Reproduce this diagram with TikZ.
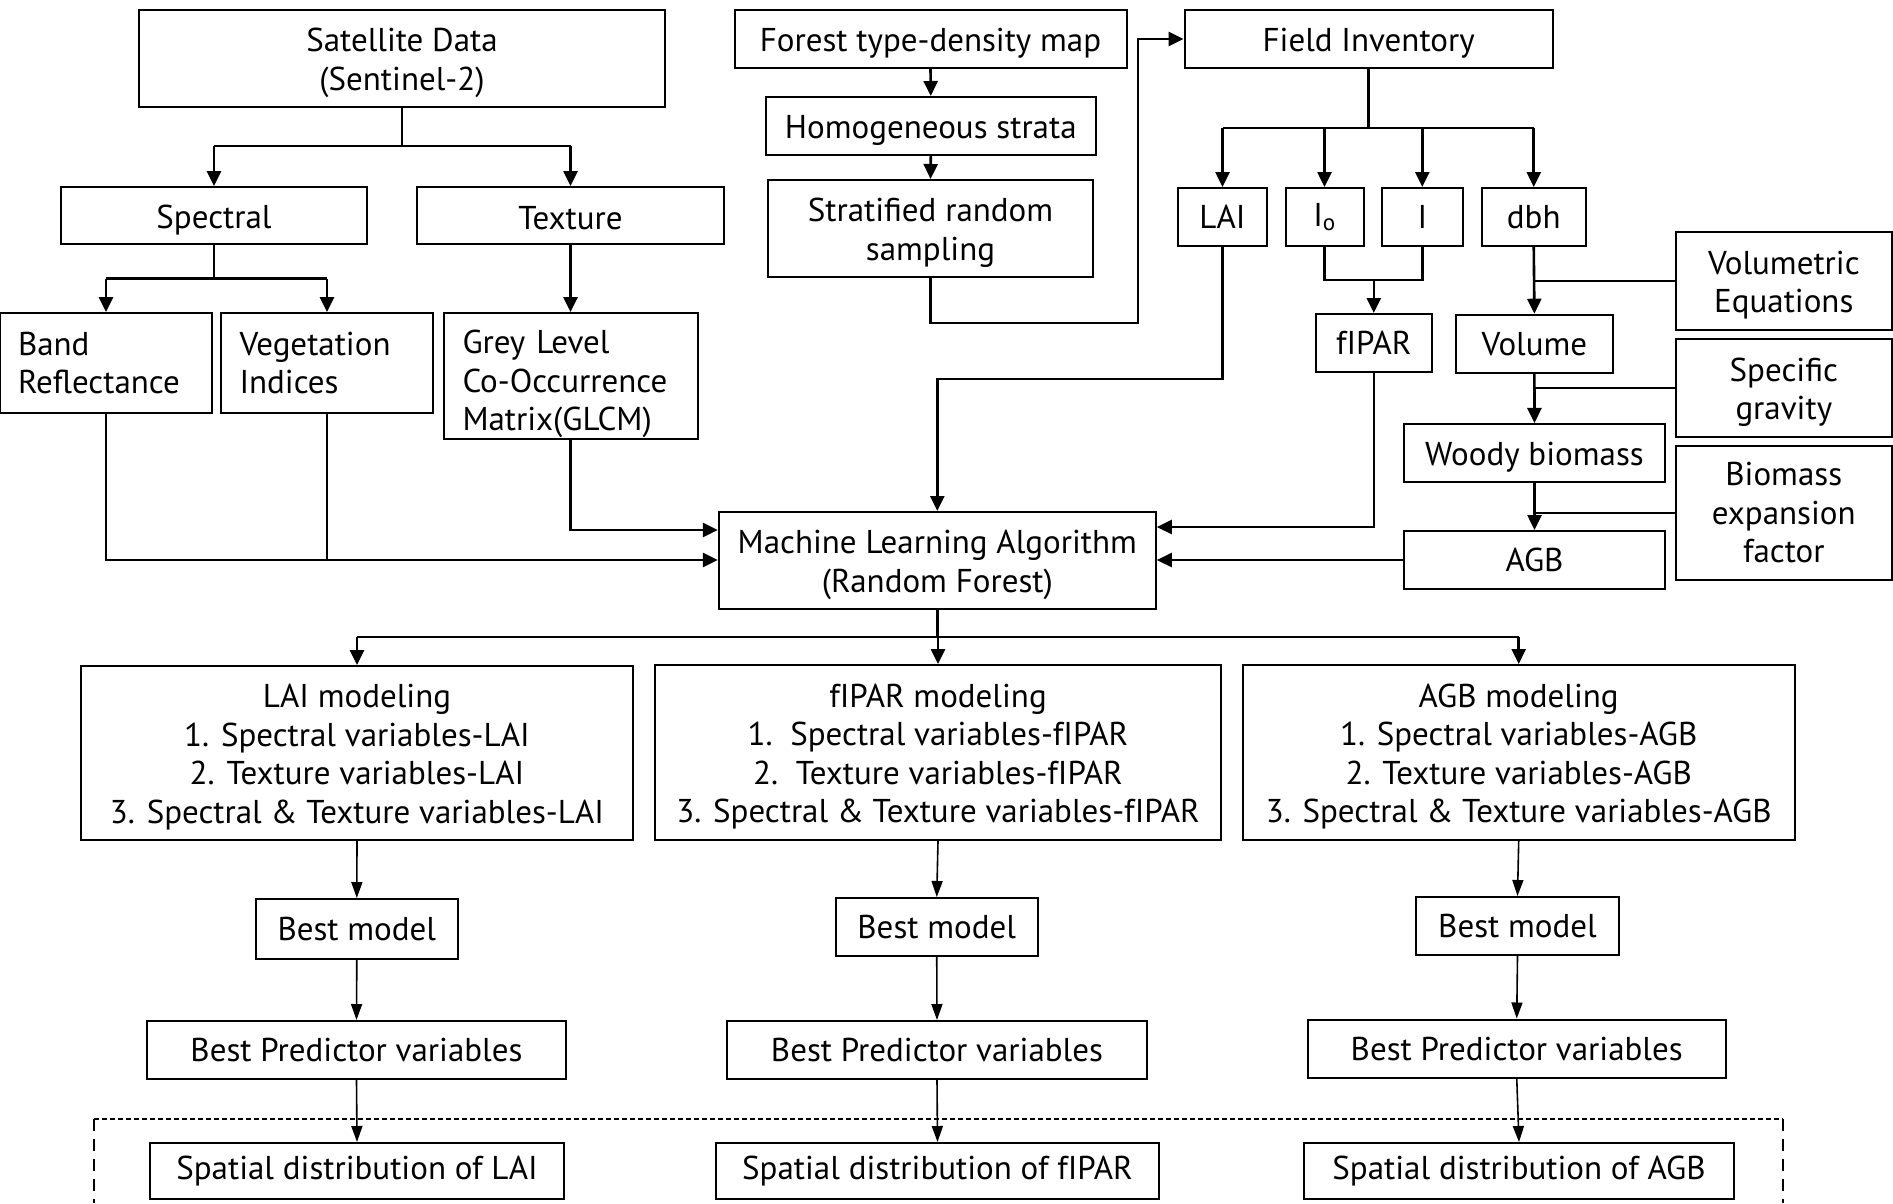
\documentclass[tikz,border=0pt]{standalone}
\usepackage{fontspec}
\setmainfont{PT Sans}
\usetikzlibrary{arrows.meta}
\newcommand\lw{\rule{0pt}{32pt}}
\begin{document}
\begin{tikzpicture}[x=1pt,y=-1pt,
  box/.style={draw, line width=2pt, inner sep=0pt, align=center, font=\fontsize{33}{38.5}\selectfont},
  ln/.style={line width=2.6pt},
  thinln/.style={line width=1.5pt},
  ar/.style={line width=2.6pt, -{Triangle[length=15pt,width=14pt]}},
  sar/.style={line width=1.6pt, -{Triangle[length=16pt,width=11pt]}}]
\newcommand\mybox[6]{\node[box, minimum width=#4pt, minimum height=#5pt] (#1) at (#2,#3) {#6};}
\useasboundingbox (0,0) rectangle (1893,1203);
% top left
\mybox{sat}{402}{58.5}{526}{97}{\lw Satellite Data\\(Sentinel-2)}
\mybox{spec}{214}{215.5}{306}{57}{\lw Spectral}
\mybox{tex}{570.5}{215.5}{307}{57}{\rule{0pt}{28pt}Texture}
\node[box, minimum width=212pt, minimum height=100pt, text width=176pt, align=left] (band) at (106,363) {Band\\Reflectance};
\node[box, minimum width=211.5pt, minimum height=100pt, text width=175pt, align=left] (veg) at (327,363) {Vegetation\\Indices};
\node[box, minimum width=254pt, minimum height=126pt, text width=216pt, align=left] (glcm) at (570.5,376) {\rule{0pt}{40pt}Grey Level\\Co-Occurrence\\Matrix(GLCM)};
% middle top
\mybox{forest}{930.5}{39}{392}{58}{\lw Forest type-density map}
\mybox{homo}{930.8}{126}{330.5}{58}{\lw Homogeneous strata}
\mybox{strat}{930.5}{228.5}{325}{97}{\lw Stratified random\\sampling}
% field
\mybox{field}{1368.6}{39}{368}{58}{\lw Field Inventory}
\mybox{lai}{1222.5}{217}{89}{58}{LAI}
\mybox{io}{1324.5}{217}{78}{58}{I\textsubscript{o}}
\mybox{i}{1422.3}{217}{80.6}{58}{I}
\mybox{dbh}{1533.75}{217}{103.5}{58}{dbh}
\mybox{fipar}{1373.8}{343}{115.6}{58}{fIPAR}
\mybox{volume}{1534.4}{343.7}{156.8}{58}{Volume}
\mybox{voleq}{1783.8}{281}{216.4}{98}{\lw Volumetric\\Equations}
\mybox{specgrav}{1783.8}{388}{216.4}{98.6}{\lw Specific\\gravity}
\mybox{woody}{1534.5}{452.8}{261}{57.7}{\lw Woody biomass}
\mybox{bef}{1783.8}{513}{216.4}{134}{Biomass\\expansion\\factor}
\mybox{agb}{1534.5}{560}{261}{58}{AGB}
% ML
\mybox{ml}{937.3}{560.5}{437}{97}{\lw Machine Learning Algorithm\\(Random Forest)}
% modeling
\mybox{laimod}{357}{753}{552}{174}{\lw LAI modeling\\1. Spectral variables-LAI\\2. Texture variables-LAI\\3. Spectral \& Texture variables-LAI}
\mybox{fiparmod}{938}{752.5}{566}{175}{\lw fIPAR modeling\\1.\ \ Spectral variables-fIPAR\\2.\ \ Texture variables-fIPAR\\3. Spectral \& Texture variables-fIPAR}
\mybox{agbmod}{1518.7}{752.5}{552}{175}{\lw AGB modeling\\1. Spectral variables-AGB\\2. Texture variables-AGB\\3. Spectral \& Texture variables-AGB}
\mybox{bm1}{356.8}{928.8}{201.6}{59.6}{Best model}
\mybox{bm2}{936.75}{927}{202.5}{58}{Best model}
\mybox{bm3}{1517.5}{926}{203}{58}{Best model}
\mybox{bp1}{356.5}{1050}{419}{58}{Best Predictor variables}
\mybox{bp2}{937}{1050}{420}{58}{Best Predictor variables}
\mybox{bp3}{1516.75}{1048.5}{418.5}{58}{Best Predictor variables}
\mybox{sd1}{357}{1171}{414}{56}{Spatial distribution of LAI}
\mybox{sd2}{937.5}{1171}{443}{56}{Spatial distribution of fIPAR}
\mybox{sd3}{1519}{1171}{430}{56}{Spatial distribution of AGB}
% dashed frame
\coordinate (dl) at (94,1119);
\coordinate (dr) at (1783,1119);
\draw[line width=1.6pt, dash pattern=on 5pt off 3pt] (dl) -- (dr);
\draw[line width=1.3pt, dash pattern=on 12pt off 8pt] (dl) -- (94,1203);
\draw[line width=1.3pt, dash pattern=on 12pt off 8pt] (dr) -- (1783,1203);
% connectors: satellite
\draw[ln] (sat.south) -- (sat.south |- 0,146);
\draw[ln] (spec.north |- 0,146) -- (tex.north |- 0,146);
\draw[ar] (spec.north |- 0,146) -- (spec.north);
\draw[ar] (tex.north |- 0,146) -- (tex.north);
\draw[ln] (spec.south) -- (spec.south |- 0,278.7);
\draw[ln] (band.north |- 0,278.7) -- (veg.north |- 0,278.7);
\draw[ar] (band.north |- 0,278.7) -- (band.north);
\draw[ar] (veg.north |- 0,278.7) -- (veg.north);
\draw[ar] (tex.south) -- (glcm.north);
\draw[ar] (glcm.south) |- (ml.west |- 0,530);
\draw[ar] (band.south) |- (ml.west |- 0,560);
\draw[thinln] (veg.south) -- (veg.south |- 0,560);
% forest chain
\draw[ar] (forest.south) -- (homo.north);
\draw[ar] (homo.south) -- (strat.north);
\coordinate (c1) at (1138,323);
\draw[ar] (strat.south) |- (c1) |- (field.west);
% field
\draw[ln] (field.south) -- (field.south |- 0,128);
\draw[ln] (lai.north |- 0,128) -- (dbh.north |- 0,128);
\draw[ar] (lai.north |- 0,128) -- (lai.north);
\draw[ar] (io.north |- 0,128) -- (io.north);
\draw[ar] (i.north |- 0,128) -- (i.north);
\draw[ar] (dbh.north |- 0,128) -- (dbh.north);
\coordinate (c2) at (ml.north |- 0,379);
\draw[ar] (lai.south) |- (c2) -- (ml.north);
\draw[ln] (io.south) |- (i.south |- 0,280) -- (i.south);
\draw[ar] (fipar.north |- 0,280) -- (fipar.north);
\draw[ar] (fipar.south) |- (ml.east |- 0,527);
\draw[ar] (dbh.south) -- (volume.north);
\draw[ar] (volume.south) -- (woody.north);
\draw[ar] (woody.south) -- (agb.north);
\draw[thinln] (voleq.west) -- (dbh.south |- voleq.west);
\draw[thinln] (specgrav.west) -- (volume.south |- specgrav.west);
\draw[thinln] (bef.west) -- (woody.south |- bef.west);
\draw[ar] (agb.west) -- (ml.east |- agb.west);
% ML to models
\draw[ln] (ml.south) -- (ml.south |- 0,637);
\draw[ln] (laimod.north |- 0,637) -- (agbmod.north |- 0,637);
\draw[ar] (laimod.north |- 0,637) -- (laimod.north);
\draw[ar] (fiparmod.north |- 0,637) -- (fiparmod.north);
\draw[ar] (agbmod.north |- 0,637) -- (agbmod.north);
% bottom chains
\draw[sar] (laimod.south) -- (bm1.north);
\draw[sar] (fiparmod.south) -- (bm2.north);
\draw[sar] (agbmod.south) -- (bm3.north);
\draw[sar] (bm1.south) -- (bp1.north);
\draw[sar] (bm2.south) -- (bp2.north);
\draw[sar] (bm3.south) -- (bp3.north);
\draw[sar] (bp1.south) -- (sd1.north);
\draw[sar] (bp2.south) -- (sd2.north);
\draw[sar] (bp3.south) -- (sd3.north);
\end{tikzpicture}
\end{document}
